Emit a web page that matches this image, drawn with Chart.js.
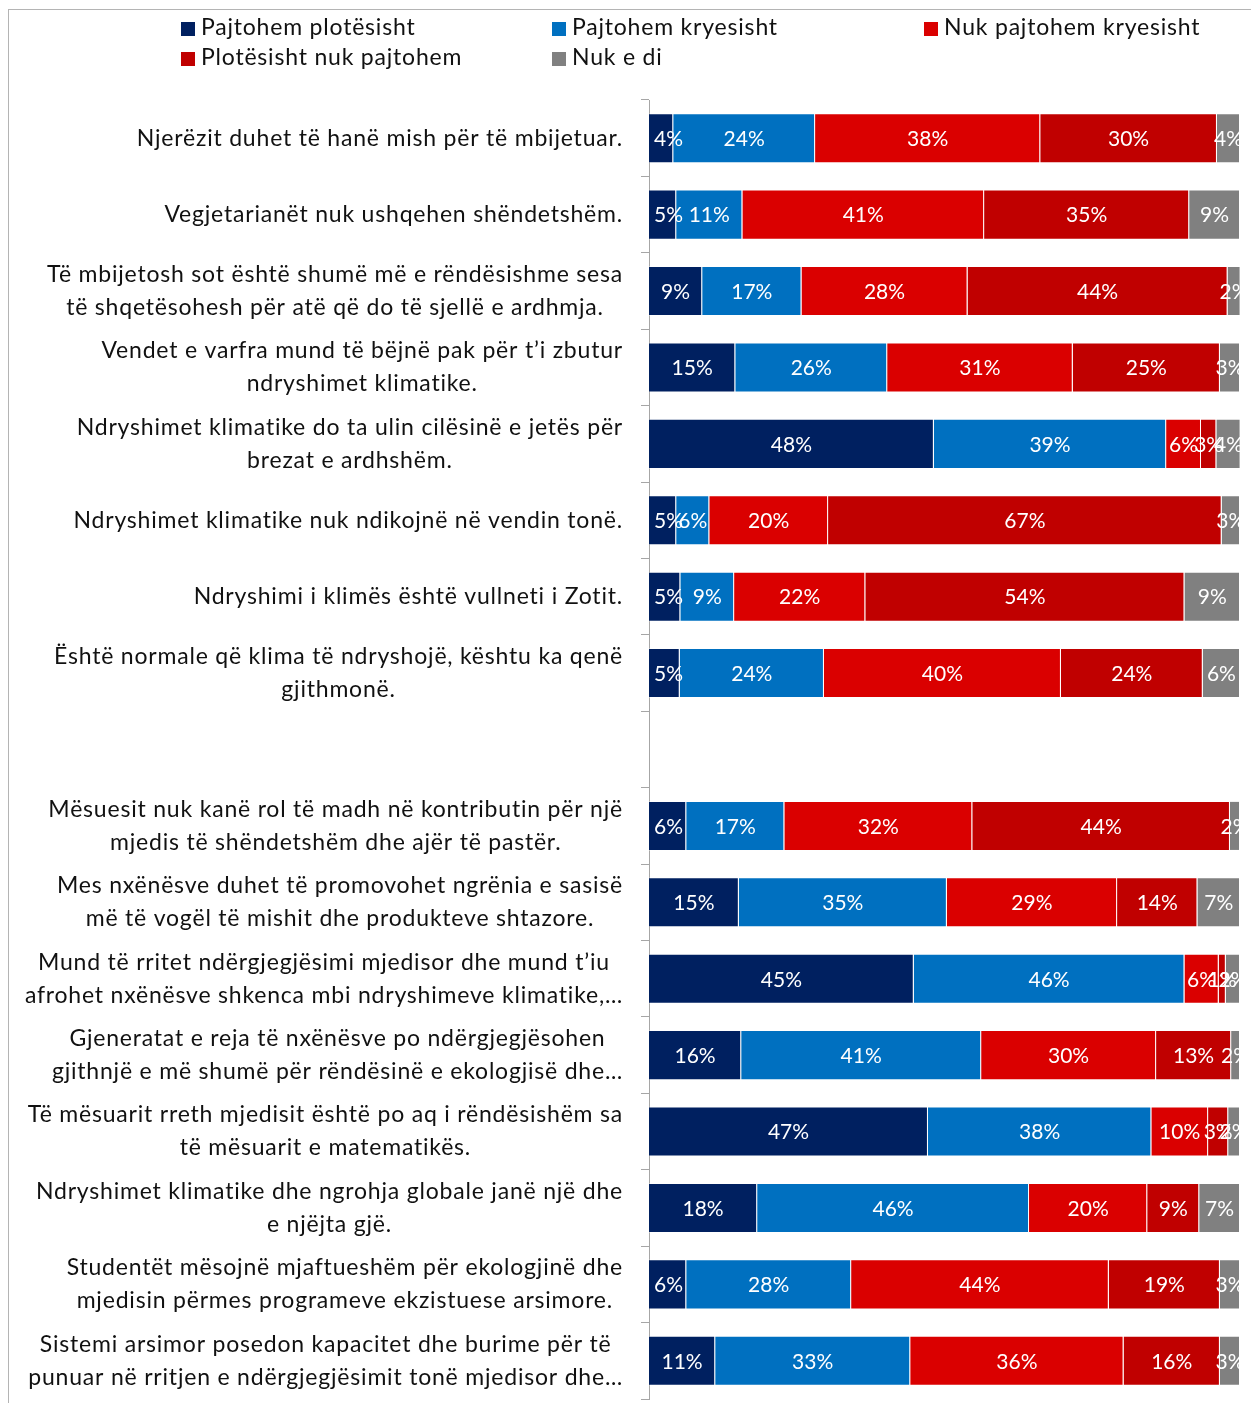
<!DOCTYPE html>
<html>
<head>
<meta charset="utf-8">
<script src="https://cdn.jsdelivr.net/npm/chart.js@4.4.1/dist/chart.umd.min.js"></script>
<style>
  body { margin: 0; background: #fff; }
  #wrap { position: relative; width: 1251px; height: 1403px; overflow: hidden; }
  #legend { position: absolute; left: 0; top: 0; font-family: Lato, sans-serif; font-size: 23px; letter-spacing: 0.8px; color: #111; }
  .item { position: absolute; white-space: nowrap; line-height: 26px; }
  .item span.box { display: inline-block; width: 14px; height: 14px; margin-right: 6px; vertical-align: -1px; }
</style>
</head>
<body>
<div id="wrap">
  <canvas id="chart" width="1251" height="1403"></canvas>
  <div id="legend"></div>
</div>
<script>
// statements (empty one is the gap between the two blocks)
const categories = [
  'Njerëzit duhet të hanë mish për të mbijetuar.',
  'Vegjetarianët nuk ushqehen shëndetshëm.',
  ['Të mbijetosh sot është shumë më e rëndësishme sesa', 'të shqetësohesh për atë që do të sjellë e ardhmja.'],
  ['Vendet e varfra mund të bëjnë pak për t’i zbutur', 'ndryshimet klimatike.'],
  ['Ndryshimet klimatike do ta ulin cilësinë e jetës për', 'brezat e ardhshëm.'],
  'Ndryshimet klimatike nuk ndikojnë në vendin tonë.',
  'Ndryshimi i klimës është vullneti i Zotit.',
  ['Është normale që klima të ndryshojë, kështu ka qenë', 'gjithmonë.'],
  '',
  ['Mësuesit nuk kanë rol të madh në kontributin për një', 'mjedis të shëndetshëm dhe ajër të pastër.'],
  ['Mes nxënësve duhet të promovohet ngrënia e sasisë', 'më të vogël të mishit dhe produkteve shtazore.'],
  ['Mund të rritet ndërgjegjësimi mjedisor dhe mund t’iu', 'afrohet nxënësve shkenca mbi ndryshimeve klimatike,…'],
  ['Gjeneratat e reja të nxënësve po ndërgjegjësohen', 'gjithnjë e më shumë për rëndësinë e ekologjisë dhe…'],
  ['Të mësuarit rreth mjedisit është po aq i rëndësishëm sa', 'të mësuarit e matematikës.'],
  ['Ndryshimet klimatike dhe ngrohja globale janë një dhe', 'e njëjta gjë.'],
  ['Studentët mësojnë mjaftueshëm për ekologjinë dhe', 'mjedisin përmes programeve ekzistuese arsimore.'],
  ['Sistemi arsimor posedon kapacitet dhe burime për të', 'punuar në rritjen e ndërgjegjësimit tonë mjedisor dhe…']
];

const seriesNames = ['Pajtohem plotësisht', 'Pajtohem kryesisht', 'Nuk pajtohem kryesisht', 'Plotësisht nuk pajtohem', 'Nuk e di'];
const seriesColors = ['#002060', '#0070C0', '#DA0000', '#C00000', '#808080'];

// percentages per answer
const fullyAgree    = [4.1, 4.6, 9.0, 14.6, 48.2, 4.6, 5.3, 5.2, null, 6.3, 15.2, 44.8, 15.6, 47.2, 18.3, 6.3, 11.2];
const mostlyAgree   = [24.0, 11.2, 16.8, 25.7, 39.3, 5.6, 9.1, 24.4, null, 16.6, 35.2, 45.8, 40.6, 37.8, 46.0, 27.9, 33.0];
const mostlyDisagree= [38.1, 40.9, 28.1, 31.4, 5.9, 20.1, 22.2, 40.1, null, 31.8, 28.8, 5.8, 29.6, 9.6, 20.0, 43.6, 36.1];
const fullyDisagree = [29.9, 34.7, 44.0, 24.9, 2.6, 66.6, 54.0, 24.0, null, 43.6, 13.6, 1.2, 12.7, 3.4, 8.8, 18.8, 16.3];
const dontKnow      = [3.9, 8.6, 2.2, 3.4, 4.1, 3.1, 9.4, 6.3, null, 1.7, 7.2, 2.4, 1.5, 2.0, 6.9, 3.4, 3.4];

const series = [fullyAgree, mostlyAgree, mostlyDisagree, fullyDisagree, dontKnow];

// legend (html, fixed columns like the original)
const legendPos = [[181, 13], [552, 13], [924, 13], [181, 43], [552, 43]];
const legend = document.getElementById('legend');
seriesNames.forEach(function (name, i) {
    const el = document.createElement('div');
    el.className = 'item';
    el.style.left = legendPos[i][0] + 'px';
    el.style.top = legendPos[i][1] + 'px';
    el.innerHTML = '<span class="box" style="background:' + seriesColors[i] + '"></span>' + name;
    legend.appendChild(el);
});

// frame + category labels + value labels
const drawText = {
    id: 'drawText',
    beforeDraw(chart) {
        const c = chart.ctx;
        c.save();
        c.strokeStyle = '#b4b4b4';
        c.lineWidth = 1;
        c.strokeRect(8.5, 9.5, 1400, 1500);
        c.restore();
    },
    afterDraw(chart) {
        const c = chart.ctx;
        const yScale = chart.scales.y;
        const area = chart.chartArea;

        // y labels: lines centred inside a right-aligned block
        c.save();
        c.font = '23px Lato';
        c.letterSpacing = '0.8px';
        c.fillStyle = '#111';
        c.textAlign = 'center';
        c.textBaseline = 'middle';
        const lineH = 33;
        chart.data.labels.forEach(function (lab, i) {
            const lines = Array.isArray(lab) ? lab : [lab];
            if (!lines[0]) return;
            const w = Math.max.apply(null, lines.map(l => c.measureText(l).width));
            const cx = Math.max(623 - w / 2, 22 + w / 2);
            const cy = yScale.getPixelForValue(i);
            lines.forEach(function (l, k) {
                c.fillText(l, cx, cy + (k - (lines.length - 1) / 2) * lineH);
            });
        });
        c.restore();

        // values inside bars (kept off the left edge like the original)
        c.save();
        c.beginPath();
        c.rect(area.left, area.top, area.right - area.left, area.bottom - area.top);
        c.clip();
        c.font = '21px Lato';
        c.fillStyle = '#fff';
        c.textAlign = 'center';
        c.textBaseline = 'middle';
        chart.data.datasets.forEach(function (ds, di) {
            chart.getDatasetMeta(di).data.forEach(function (bar, i) {
                const v = ds.data[i];
                if (v == null) return;
                const txt = Math.round(v) + '%';
                const tw = c.measureText(txt).width;
                const x = Math.max((bar.x + bar.base) / 2, area.left + 5 + tw / 2);
                c.fillText(txt, x, bar.y + 1);
            });
        });
        c.restore();
    }
};

new Chart(document.getElementById('chart'), {
    type: 'bar',
    data: {
        labels: categories,
        datasets: series.map(function (d, i) {
            return {
                label: seriesNames[i],
                data: d,
                backgroundColor: seriesColors[i],
                borderColor: 'rgba(255,255,255,0.35)',
                borderWidth: 1,
                categoryPercentage: 1,
                barPercentage: 0.655
            };
        })
    },
    options: {
        indexAxis: 'y',
        responsive: false,
        animation: false,
        layout: { padding: { top: 100, right: 11, bottom: 4, left: 0 } },
        plugins: {
            legend: { display: false },
            tooltip: { enabled: false }
        },
        scales: {
            x: { stacked: true, min: 0, max: 100, display: false },
            y: {
                stacked: true,
                grid: { offset: true, drawOnChartArea: false, tickLength: 8, color: '#a6a6a6' },
                border: { color: '#a6a6a6', width: 1 },
                ticks: { display: false },
                afterFit: function (s) { s.width = 649; }
            }
        }
    },
    plugins: [drawText]
});
</script>
</body>
</html>
